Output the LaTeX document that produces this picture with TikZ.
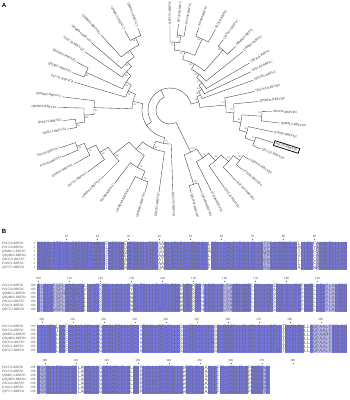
\documentclass[tikz,border=0pt]{standalone}
\usepackage{fontspec}
\setmainfont{Liberation Serif}
\newfontfamily\seqfont{Liberation Mono}
\newfontfamily\panelfont{Liberation Sans}
\definecolor{cdark}{HTML}{7676E2}
\definecolor{clight}{HTML}{B6B6F2}
\tikzset{
 br/.style={draw=black!80, line width=0.33pt},
 lbl/.style={font=\fontsize{3.2}{3.5}\selectfont, inner sep=0pt, text=black!85},
 boxed/.style={draw=black, line width=0.75pt, inner sep=1.4pt},
 bsl/.style={font=\fontsize{2.4}{2.7}\selectfont, inner sep=0pt, text=black!80},
 seq/.style={font=\seqfont\fontsize{5.1667}{5}\selectfont, inner sep=0pt, anchor=west, text=black!60, text height=2.9pt, text depth=0.4pt},
 nm/.style={font=\itshape\fontsize{3.3}{4}\selectfont, inner sep=0pt, text=black!70, text height=2.4pt, text depth=0.7pt},
 rn/.style={font=\fontsize{3.3}{4}\selectfont, inner sep=0pt, text=black!70, text height=2.4pt, text depth=0.7pt},
 rul/.style={font=\fontsize{3.2}{4}\selectfont, inner sep=0pt, text=black!75},
 tick/.style={draw=black!60, line width=0.25pt},
 panel/.style={font=\panelfont\bfseries\fontsize{6}{7}\selectfont, inner sep=0pt},
}
\newcommand\tleaf[5][]{%
  \expandafter\xdef\csname ta#2\endcsname{#3}%
  \expandafter\xdef\csname tr#2\endcsname{#4}%
  \pgfmathsetmacro\tlrad{#4+1}%
  \ifdim #3pt>90pt
    \ifdim #3pt<270pt
      \pgfmathsetmacro\tlrot{#3-180}%
      \node[lbl,anchor=east,rotate=\tlrot,#1] (#2) at (#3:\tlrad) {#5};%
    \else
      \node[lbl,anchor=west,rotate=#3,#1] (#2) at (#3:\tlrad) {#5};%
    \fi
  \else
    \node[lbl,anchor=west,rotate=#3,#1] (#2) at (#3:\tlrad) {#5};%
  \fi}
\newcommand\tjoin[5]{%
  \edef\tja{\csname ta#2\endcsname}%
  \edef\tjb{\csname ta#3\endcsname}%
  \edef\tjra{\csname tr#2\endcsname}%
  \edef\tjrb{\csname tr#3\endcsname}%
  \pgfmathsetmacro\tjm{(\tja+\tjb)/2}%
  \expandafter\xdef\csname ta#1\endcsname{\tjm}%
  \expandafter\xdef\csname tr#1\endcsname{#4}%
  \draw[br] (\tja:\tjra) -- (\tja:#4) arc[start angle=\tja, end angle=\tjb, radius=#4] -- (\tjb:\tjrb);
  \pgfmathsetmacro\tjla{\tjm+3/#4*57.3}%
  \pgfmathsetmacro\tjlr{#4-2.2}%
  \node[bsl] at (\tjla:\tjlr) {#5};%
}
\newcommand\alblock[8]{%
  \fill[cdark] (37,#1) rectangle ++({3.1*#2},28);
  \foreach \ci in {#4} {\fill[white] ({37+3.1*(\ci-1)},#1) rectangle ++(3.1,28);}
  \foreach \ci in {#5} {\fill[clight] ({37+3.1*(\ci-1)},#1) rectangle ++(3.1,28);}
  \foreach \rk in {#6} {\node[rul] at ({37+3.1*(\rk-#7-0.5)},#1-5.6) {\rk};
     \draw[tick] ({37+3.1*(\rk-#7-0.5)},#1-3.4) -- ++(0,1.4);}
  \foreach \sq [count=\ri from 0] in {#8} {\node[seq] at (37,#1+2+4*\ri) {\sq};}
  \foreach \nmx [count=\ri from 0] in {P01530-RBFD1,P01530-RBFD2,Q9M8C2-RBFD5,Q9QM69-RBFD4,O9C621-RBFD7,P24021-RBFD2,Q9T571-RBFD6}
     {\node[nm,anchor=west] at (2,#1+2+4*\ri) {\nmx};
      \node[rn,anchor=east] at (35.6,#1+2+4*\ri) {#3};}
}
\begin{document}
\begin{tikzpicture}[x=1pt,y=1pt]
\useasboundingbox (0,0) rectangle (349,400);
\fill[white] (0,0) rectangle (349,400);
\node[panel] (pA) at (4,394.5) {A};
\node[panel] (pB) at (4,168.5) {B};
\begin{scope}[shift={(170,290)}]
\tleaf{L1}{90}{84.5}{Q9C5Y2-RBFVC}
\tleaf{L2}{84.4}{86.5}{P97224-RBFVC}
\tleaf{L3}{79.2}{86.5}{P97186-RBFVC}
\tleaf{L4}{70.7}{87.5}{P97880-RBFVC}
\tleaf{L5}{60.6}{92.5}{P97160-RBFVC}
\tleaf{L6}{52.8}{88.5}{Q9T3G3-RBFVC}
\tleaf{L7}{44.2}{91.5}{Q9M8E6-RBFVC}
\tleaf{L8}{38.7}{93.5}{Q9M8E4-RBFVC}
\tleaf{L9}{30.6}{92.5}{Q9T3L8-RBFVC}
\tleaf{L10}{25.3}{89.5}{Q9T3A4-RBFVC}
\tleaf{L11}{19.7}{88.5}{Q9T3K5-RBFVC}
\tleaf{L12}{12.4}{86.5}{Q9T3Y6-RBFVD4}
\tleaf{L13}{5.5}{88.5}{Q9QM36-RBFVD6}
\tleaf{L14}{-1}{102.5}{P03130-RBFVD3}
\tleaf{L15}{-6.8}{110.5}{Q9M8C3-RBFVD5}
\tleaf{L16}{-12}{105.5}{P24026-RBFVD2}
\tleaf[boxed]{L17}{-17.6}{108}{P05130-RBFVD1}
\tleaf{L18}{-23.2}{98.5}{Q9C5Z3-RBFVD7}
\tleaf{L19}{328}{93.5}{Q9FWP3-RBFVB2}
\tleaf{L20}{320.5}{94.5}{P73286-RBFVB4}
\tleaf{L21}{313}{97.5}{Q9C5Z4-RBFVB3}
\tleaf{L22}{305}{94.5}{Q9C5Z2-RBFVB1}
\tleaf{L23}{297}{90.5}{P73398-RBFVB1}
\tleaf{L24}{291}{88.5}{Q4LH89-RBFVB1}
\tleaf{L25}{284.3}{85.5}{Q4LH90-RBFVB7}
\tleaf{L26}{272}{81.5}{Q9C5Y9-RBFVA1}
\tleaf{L27}{262.4}{82.5}{Q4C5S5-RBFVA7}
\tleaf{L28}{253}{85.5}{Q9M8A5-RBFVA5}
\tleaf{L29}{242.5}{88.5}{Q9M8A8-RBFVA8}
\tleaf{L30}{233}{91.5}{P29380-RBFVA1}
\tleaf{L31}{225}{97.5}{Q9M8A4-RBFVA4}
\tleaf{L32}{217}{103.5}{P97741-RBFVA3}
\tleaf{L33}{209.4}{110.5}{Q9SE62-RBFVA2}
\tleaf{L34}{203.5}{117.5}{P92143-RBFVA3}
\tleaf{L35}{199}{116.5}{P92143-RBFVA2}
\tleaf{L36}{190.6}{104.5}{Q9SE13-RBFVE4}
\tleaf{L37}{185.6}{107.5}{Q9SE14-RBFVE2}
\tleaf{L38}{178.7}{112.5}{Q6NN53-RBFVE1}
\tleaf{L39}{173}{108.5}{Q9N8O3-RBFVG2}
\tleaf{L40}{163.8}{99.5}{P97741-RBFVC8}
\tleaf{L41}{159}{104.5}{Q8Z9H7-RBFVD1}
\tleaf{L42}{152.8}{104.5}{Q8ZMA2-RBFVD1}
\tleaf{L43}{145.6}{103.5}{Q6JV39-RBFVD2}
\tleaf{L44}{139.4}{102.5}{Q9M8D4-RBFVD3}
\tleaf{L45}{132.6}{102.5}{Q9M8D5-RBFVD2}
\tleaf{L46}{119.7}{91.5}{Q9M8C5-RBFVC2}
\tleaf{L47}{111.4}{88.5}{Q9M8C1-RBFVC1}
% clade C
\tjoin{n1}{L2}{L3}{75}{78}
\tjoin{n2}{L1}{n1}{68}{72}
\tjoin{n3}{L4}{L5}{78}{64}
\tjoin{n4}{n2}{n3}{60}{71}
\tjoin{n5}{L6}{L7}{80}{89}
\tjoin{n6}{n4}{n5}{52}{62}
\tjoin{n7}{n6}{L8}{46}{79}
\tjoin{n8}{n7}{L9}{42}{53}
\tjoin{n9}{n8}{L10}{38}{44}
\tjoin{n10}{n9}{L11}{34}{58}
% clade D
\tjoin{nA}{L14}{L15}{92}{63}
\tjoin{nB}{L17}{L18}{90}{77}
\tjoin{nC}{L16}{nB}{80}{63}
\tjoin{nD}{nA}{nC}{72}{83}
\tjoin{nE}{L13}{nD}{64}{97}
\tjoin{nF}{L12}{nE}{56}{44}
% clade B
\tjoin{nG}{L19}{L20}{86}{49}
\tjoin{nH}{L21}{nG}{78}{61}
\tjoin{nI}{L22}{nH}{68}{45}
\tjoin{nJ}{L23}{nI}{58}{71}
\tjoin{nK}{L24}{L25}{78}{99}
\tjoin{nL}{nJ}{nK}{47}{100}
% clade A
\tjoin{a1}{L28}{L29}{75}{74}
\tjoin{a2}{L30}{a1}{66}{72}
\tjoin{a3}{L34}{L35}{100}{59}
\tjoin{a4}{L33}{a3}{92}{74}
\tjoin{a5}{L32}{a4}{82}{66}
\tjoin{a6}{L31}{a5}{72}{49}
\tjoin{a7}{a2}{a6}{52}{57}
\tjoin{a8}{L27}{a7}{42}{81}
\tjoin{a9}{L26}{a8}{34}{72}
% clade E
\tjoin{e1}{L36}{L37}{95}{81}
\tjoin{e2}{L38}{e1}{86}{100}
\tjoin{e3}{L39}{e2}{76}{97}
% top-left clade
\tjoin{t1}{L46}{L47}{80}{94}
\tjoin{t2}{L45}{t1}{72}{50}
\tjoin{t3}{L44}{t2}{64}{84}
\tjoin{t4}{L43}{t3}{58}{56}
\tjoin{t5}{L41}{L42}{92}{89}
\tjoin{t6}{t5}{t4}{52}{99}
\tjoin{t7}{L40}{t6}{46}{74}
% root
\tjoin{x1}{nF}{n10}{30}{53}
\tjoin{x2}{t7}{e3}{38}{31}
\tjoin{x3}{x2}{a9}{28}{}
\tjoin{x4}{x1}{x3}{22}{}
\tjoin{x5}{x4}{nL}{14}{}
\end{scope}
\begin{scope}[shift={(0,400)},yscale=-1]
\alblock{242}{100}{1}{23,29,40,41,56,85,90}{74,75,91}{10,20,30,40,50,60,70,80,90}{0}{%
MSQQLSTEYRLEQPQQPAARKAFWFPSKEMFEDSLVTPFAAKLNPKEAYVRWLGLLGSLLGALPYFAVLRLLSTPGAVRRNFWRLLLFLFALWLPLLLVA,
MSQQLSTEYRLEQPQQPAARKALWFPSKDMFEDSLVTPFSAKLNPKEAYVRWLGLIGSLLGALPYFAVLRLLSVPGAVRRNFWRMLLFLYALWLPLLLVA,
MSQELSTEYRLEQPQQPAARKAYWFPSKQMFEDSLVTPFGSKLNPKEAYVRWLGLMGSLLGALPYFAVLRLLSQAGAVRRNFWRILLFLFSLWLPLLLVA,
MSQQLSTEYRLEQPQQPAARKAFWFPSKEMFEDSLVTPFAAKLNPKEAYVRWLGLLGSLLGALPYFAVLRLLSTPGAVRRNFWRVLLFLFALWLPLLLVA,
MSQQLSTEYRLEQPQQPAARKSFWFPSKAMFEDSLVTPFATKLNPKEAYVRWLGLVGSLLGALPYFAVLRLLSKHGAVRRNFWRLLLFLCGLWLPLLLVA,
MSQQLSTEYRLEQPQQPTARKAFWFPSKEMFEDSLVTPFAAKLNPKEAYVRWLGLLGSLLGALPYFAVLRLLSTPGAVRRNFWRLLLFLFALWLPLLLVA,
MSQQLSTEYRLEQPQQPAARKAIWFPSKNMFEDSLVTPFQAKLNPKEAYVRWLGLFGSLLGALPYFAVLRLLSRQGAVRRNFWRALLFLWPLWLPLLLVA}
\alblock{284}{100}{100}{16,21,31,47,51,54,70,77,86,90}{2,6,7,8,9,61,62,63,94,95,96}{100,110,120,130,140,150,160,170,180,190}{99}{%
FLGLVFSPLAPGWYSLLLATRSGLLAVLLPWALTGLLLFLPFLPSAWLRLRRPHLGSLLGLPAARLWWFLPLLLALSPWLSLLFAPAWRLLGLPLALSGG,
FIGLVYSPLAPGWYSVLLATKSGLLAVLLPYALTGLLLFLPFLPSAVLRLKRPQLGSLLGLLAARLWWFLPLLLALAPWLSLLFAPAWRLLGLPLALSGG,
FLGLVFSAMAPGWYSLLLATRSGLLAVLLPWALTGLLLFLPFLPSTWLRIRRPHLGSLLGLPSARLWWFLPLLLALSPWLSLLFAPAWRLLGLPLALSGG,
FLGLVFSPLAPGFYSLLLATRSGLLAVLLPWALTGLLLFLPFLPSAWLRLRRPHLGSLLGLPAARLWWFLPLLLALSPWLSLLFTPAWRLLGLPLALSGG,
FLGIVFSPLAPGWYSLLLASRSGLLAVLLPWALTGLLLFLPFLPSAWLRLRRPHLGSLLGLPAARLWWFLPLLLALSPWLSLLFAPAWRLLGLPLSLSGA,
FLGLVFSPLAPGWYSLLLATRSGLLAVLLPWALTGLLLFLPFLPSAWLRLRRPHIGSLLGLPAARLWWFLPLLLALSPWLSLLFAPAWRLLGLPLALSGG,
FLGLVWSPLAPGWYSLLLATRSGLLAVLLPWALTGLLLFMPFLPSAWLRLRRPHLGSLLGLPAARLWWFLPLLLSLSPWLSLLFAPAWRLLGLPLALSGG}
\alblock{325}{100}{199}{7,10,21,34,47,58,80,87,88}{90,91,92,93,94,95}{200,210,220,230,240,250,260,270,280,290}{198}{%
LLLVPLLAAFSLAVLGPLLWGAVGLFPLLLPLLVRASLLPFLPLLLSLLFPLLLVLLGSLRGSPLLFLAPLSLLLRFLLTRLSLRALLAGPAALPSGLRS,
LLLVPLIAAFSLAVLGPLLWGAVGLFPLLLPLLVRASLLPFLPLLLSLLFPLLLVLLGSLRGSPLLFLAPLSLLLRFLLTRLSIRALLAGPAALPSGLRS,
LLLAPLLSAFSLAVLGPLLWGAVGLYPLLLPLLVRASLLPFLPLLLSLLFPLLLVLLGSLRGSPLLFLAPLSLLLKFLLTRLSLRALLAGPAAMPSGLRS,
LLLVPLLAAFSLAVIGPLLWGAVGLFPLLLPLLVRASLLPFLPLLLSLVFPLLLVLLGSLRGSPLLFLAPLSLLLRFLLTRLSLRALLAGPAALPSGLRS,
LLLVPLLAAFSLAVLGPLLWGAVGLFPLLLPLLVKASLLPFLPLLLSLLFPLLLVLMGSLRGSPLLFLAPLSLLLRFLLTRLTLRALLAGPAALPSGLRS,
LLLVPLLAAFSLAVLGPLLWGAVGLFPLLLPLLVRASLLPFLPLLLSLLFPLLLVLLGSLRGSPLLYLAPLSLLLRFLLTRLSLRALLAGPAALPSGLRS,
LLLVPLLGAFSLAVLGPLLWGAVGLFPLLLPLLVRASLLPFLPLLLSLLFPLLLVLLGSLRGSPLLFLAPLSLLLRFMLTRLSLRALLAGPAALPAGLRS}
\alblock{366}{75}{298}{14,15,21,31,34,48,55,59,69}{2,3,74}{300,310,320,330,340,350,360,370,380}{297}{%
PGRSLLFSLLLSPLAWALLLGSRSAPLFLWLAWPLGLLLSPGFSLLLWRFLPLLAALLFFLLPRLFLAPAGRSWL,
PGRSLLFSLLLSPLAWSLLLGSRSAPLFLWLAWPLGLLLSPGFSLLLWRFLPLLAALLFFLLPRLFLAPAGRSWL,
PGRSLLFSLLLSPLAWALLLGSRTAPLFLWLAWPLGLLLSPGFSLLLWRFLPLLSALLFFLLPRLFLAPAGRSWL,
PGRALLFSLLLSPLAWALLLGSRSAPLFLWLAWPLGLLLSPGFSLLLWRFLPLLAALLFFLLPRLFLAPAGRSWL,
PGRSLLFSLLLSPLAWALLLGSRSAPLFLWLAWPLGLMLSPGFSLLLWRFLPLLAALLFFLLPKLFLAPAGRSWL,
PGRSLLFSLLLSPLAWALLLGSRSAPLFLWLAWPLGLLLSPGFSLLIWRFLPLLAALLFFLLPRLFLAPAGRSWL,
PGRSLLFSLLLSPLAWALLLGSRSASLFLWLAWPLGLLLSPGFSLLLWRFLPLLAALLFFLLPRLFLAPAGRSYL}
\end{scope}
\end{tikzpicture}
\end{document}
